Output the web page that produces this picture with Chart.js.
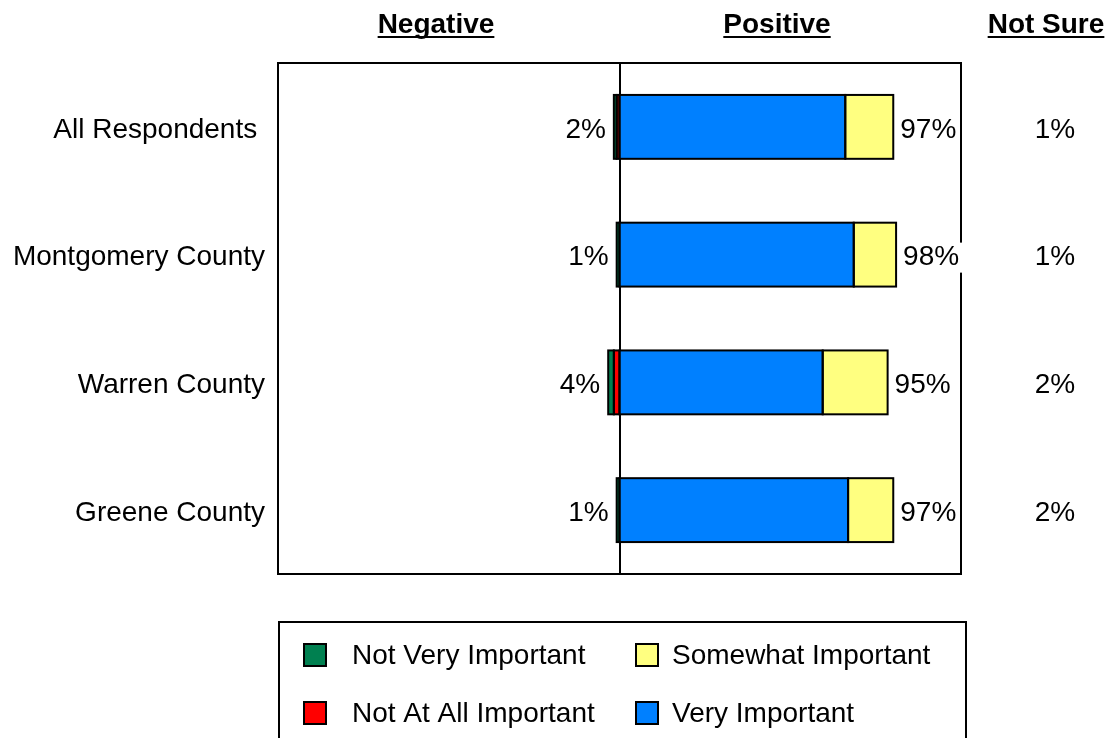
<!DOCTYPE html>
<html>
<head>
<meta charset="utf-8">
<script src="https://cdn.jsdelivr.net/npm/chart.js@4/dist/chart.umd.min.js"></script>
<style>
  html, body { margin: 0; padding: 0; background: #ffffff; }
  #wrap { width: 1108px; height: 738px; position: relative; }
</style>
</head>
<body>
<div id="wrap"><canvas id="c" width="1108" height="738"></canvas></div>
<script>
// ---- data ----
const categories = ["All Respondents ", "Montgomery County", "Warren County", "Greene County"];
const notAtAllImportant = [1, 0, 2, 0];
const notVeryImportant = [1, 1, 2, 1];
const veryImportant = [80, 83, 72, 81];
const somewhatImportant = [17, 15, 23, 16];
const negativeLabels = ["2%", "1%", "4%", "1%"];
const positiveLabels = ["97%", "98%", "95%", "97%"];
const notSureLabels = ["1%", "1%", "2%", "2%"];
const negativeTotals = [2, 1, 4, 1];
const positiveTotals = [97, 98, 95, 97];
const headerTitles = ["Negative", "Positive", "Not Sure"];
const legendOrder = ["Not Very Important", "Somewhat Important", "Not At All Important", "Very Important"];

const FONT = "'Liberation Sans', Arial, Helvetica, sans-serif";

const datasets = [
  { label: "Not At All Important", data: notAtAllImportant.map(v => -v), backgroundColor: "#FF0000" },
  { label: "Not Very Important", data: notVeryImportant.map(v => -v), backgroundColor: "#008050" },
  { label: "Very Important", data: veryImportant, backgroundColor: "#0080FF" },
  { label: "Somewhat Important", data: somewhatImportant, backgroundColor: "#FFFF80" }
].map(d => Object.assign(d, {
  borderWidth: 0,
  barPercentage: 0.5,
  categoryPercentage: 1.0
}));

const decorPlugin = {
  id: "decor",
  beforeDatasetsDraw(chart) {
    const { ctx, chartArea: a, scales } = chart;
    ctx.save();
    ctx.strokeStyle = "#000";
    ctx.lineWidth = 2;
    ctx.strokeRect(a.left, a.top, a.right - a.left, a.bottom - a.top);
    const zx = Math.round(scales.x.getPixelForValue(0));
    ctx.beginPath();
    ctx.moveTo(zx, a.top);
    ctx.lineTo(zx, a.bottom);
    ctx.stroke();
    ctx.restore();
  },
  afterDatasetsDraw(chart) {
    const { ctx, scales } = chart;
    ctx.save();
    // outlines of bar segments, centred on their edges
    ctx.strokeStyle = "#000";
    ctx.lineWidth = 2;
    chart.data.datasets.forEach((ds, di) => {
      const meta = chart.getDatasetMeta(di);
      meta.data.forEach((el, i) => {
        if (!ds.data[i]) return;
        const p = el.getProps(["x", "y", "base", "height"], true);
        const l = Math.min(p.x, p.base), w = Math.abs(p.x - p.base);
        ctx.strokeRect(l, p.y - p.height / 2, w, p.height);
      });
    });
    ctx.font = "28px " + FONT;
    ctx.fillStyle = "#000";
    ctx.textBaseline = "middle";
    categories.forEach((c, i) => {
      const y = scales.y.getPixelForValue(i) + 3;
      // negative label
      ctx.textAlign = "right";
      ctx.fillText(negativeLabels[i], scales.x.getPixelForValue(-negativeTotals[i]) - 8, y);
      // positive label with white background
      const px = scales.x.getPixelForValue(positiveTotals[i]) + 7;
      const w = ctx.measureText(positiveLabels[i]).width;
      ctx.fillStyle = "#fff";
      ctx.fillRect(px - 2, y - 15, w + 5, 30);
      ctx.fillStyle = "#000";
      ctx.textAlign = "left";
      ctx.fillText(positiveLabels[i], px, y);
      // not sure label
      ctx.textAlign = "center";
      ctx.fillText(notSureLabels[i], 1055, y);
    });
    ctx.restore();
  },
  afterDraw(chart) {
    const { ctx } = chart;
    ctx.save();
    // headers
    ctx.font = "bold 28px " + FONT;
    ctx.fillStyle = "#000";
    ctx.textAlign = "center";
    ctx.textBaseline = "alphabetic";
    const hx = [436, 777, 1046];
    headerTitles.forEach((t, i) => {
      ctx.fillText(t, hx[i], 33);
      const w = ctx.measureText(t).width;
      ctx.fillRect(hx[i] - w / 2, 36, w, 2);
    });
    // legend box
    ctx.strokeStyle = "#000";
    ctx.lineWidth = 2;
    ctx.strokeRect(279, 622, 687, 130);
    ctx.font = "28px " + FONT;
    ctx.textAlign = "left";
    ctx.textBaseline = "middle";
    const colX = [304, 636];
    const textX = [352, 672];
    const rowY = [655, 713];
    legendOrder.forEach((lab, k) => {
      const ds = chart.data.datasets.find(d => d.label === lab);
      const col = k % 2, cy = rowY[Math.floor(k / 2)];
      const cx = colX[col];
      ctx.fillStyle = ds.backgroundColor;
      ctx.fillRect(cx, cy - 11, 22, 22);
      ctx.lineWidth = 2;
      ctx.strokeRect(cx, cy - 11, 22, 22);
      ctx.fillStyle = "#000";
      ctx.fillText(lab, textX[col], cy + 1);
    });
    ctx.restore();
  }
};

new Chart(document.getElementById("c"), {
  type: "bar",
  data: { labels: categories, datasets },
  options: {
    indexAxis: "y",
    responsive: false,
    animation: false,
    devicePixelRatio: 1,
    layout: { padding: { top: 63, right: 147, bottom: 164, left: 0 } },
    plugins: { legend: { display: false }, tooltip: { enabled: false } },
    scales: {
      x: { stacked: true, min: -121, max: 121, display: false },
      y: {
        stacked: true,
        grid: { display: false, drawTicks: false },
        border: { display: false },
        ticks: { color: "#000", font: { family: FONT, size: 28 }, padding: 13, labelOffset: 3 },
        afterFit(scale) { scale.width = 278; }
      }
    }
  },
  plugins: [decorPlugin]
});
</script>
</body>
</html>
